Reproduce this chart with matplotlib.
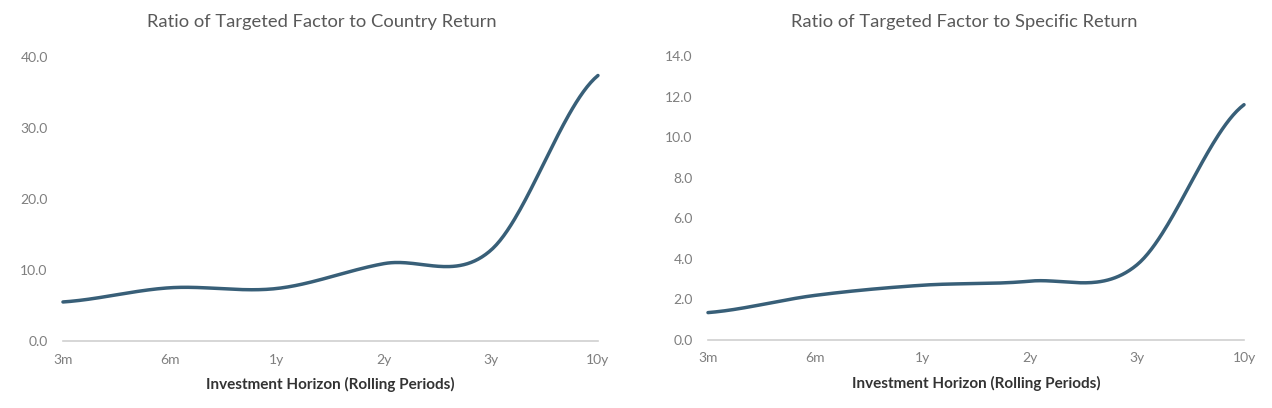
import numpy as np
import matplotlib
matplotlib.use("Agg")
import matplotlib.pyplot as plt

plt.rcParams['font.family'] = ['Lato', 'DejaVu Sans']

# data
horizons = ["3m", "6m", "1y", "2y", "3y", "10y"]
country_ratio = [5.5, 7.5, 7.4, 10.9, 12.8, 37.4]
specific_ratio = [1.35, 2.2, 2.7, 2.9, 3.7, 11.6]

LINE_COLOR = '#385f78'
GRAY_TEXT = '#7f7f7f'
TITLE_COLOR = '#595959'


# excel-style smoothed line (bezier through the points)
def smooth(y, n=60):
    y = np.asarray(y, dtype=float)
    x = np.arange(len(y), dtype=float)
    xs, ys = [], []
    for i in range(len(y) - 1):
        y0 = y[i - 1] if i > 0 else y[i]
        y3 = y[i + 2] if i + 2 < len(y) else y[i + 1]
        c1 = y[i] + (y[i + 1] - y0) / 6.0
        c2 = y[i + 1] - (y3 - y[i]) / 6.0
        t = np.linspace(0, 1, n)
        b = ((1 - t) ** 3 * y[i] + 3 * (1 - t) ** 2 * t * c1
             + 3 * (1 - t) * t ** 2 * c2 + t ** 3 * y[i + 1])
        xs.append(x[i] + t)
        ys.append(b)
    return np.concatenate(xs), np.concatenate(ys)


def draw_panel(ax, values, ymax, step, title, title_x):
    xs, ys = smooth(values)
    ax.plot(xs, ys, color=LINE_COLOR, lw=2.5, solid_capstyle='round', clip_on=False)
    ax.set_xlim(0, len(values) - 1)
    ax.set_ylim(0, ymax)
    ax.set_xticks(range(len(horizons)))
    ax.set_xticklabels(horizons)
    ax.set_yticks(np.arange(0, ymax + step / 2, step))
    ax.set_yticklabels(["{:.1f}".format(v) for v in np.arange(0, ymax + step / 2, step)])
    for s in ['top', 'right', 'left']:
        ax.spines[s].set_visible(False)
    ax.spines['bottom'].set_color('#d0d0d0')
    ax.spines['bottom'].set_linewidth(1.2)
    ax.tick_params(axis='both', length=0, labelsize=10, labelcolor=GRAY_TEXT)
    ax.tick_params(axis='y', pad=11)
    ax.tick_params(axis='x', pad=9)
    ax.set_xlabel("Investment Horizon (Rolling Periods)", fontsize=11,
                  fontweight='bold', color='#333333')
    ax.xaxis.set_label_coords(0.5, -0.125)
    ax.figure.text(title_x, 0.945, title, ha='center', va='center',
                   fontsize=13.2, color=TITLE_COLOR)


fig = plt.figure(figsize=(12.72, 4.08), dpi=100)
ax1 = fig.add_axes([0.0495, 0.1642, 0.4206, 0.696])
ax2 = fig.add_axes([0.5566, 0.1667, 0.4214, 0.696])

draw_panel(ax1, country_ratio, 40, 10, "Ratio of Targeted Factor to Country Return", 322 / 1272)
draw_panel(ax2, specific_ratio, 14, 2, "Ratio of Targeted Factor to Specific Return", 964 / 1272)

fig.savefig("out.png", dpi=100)
